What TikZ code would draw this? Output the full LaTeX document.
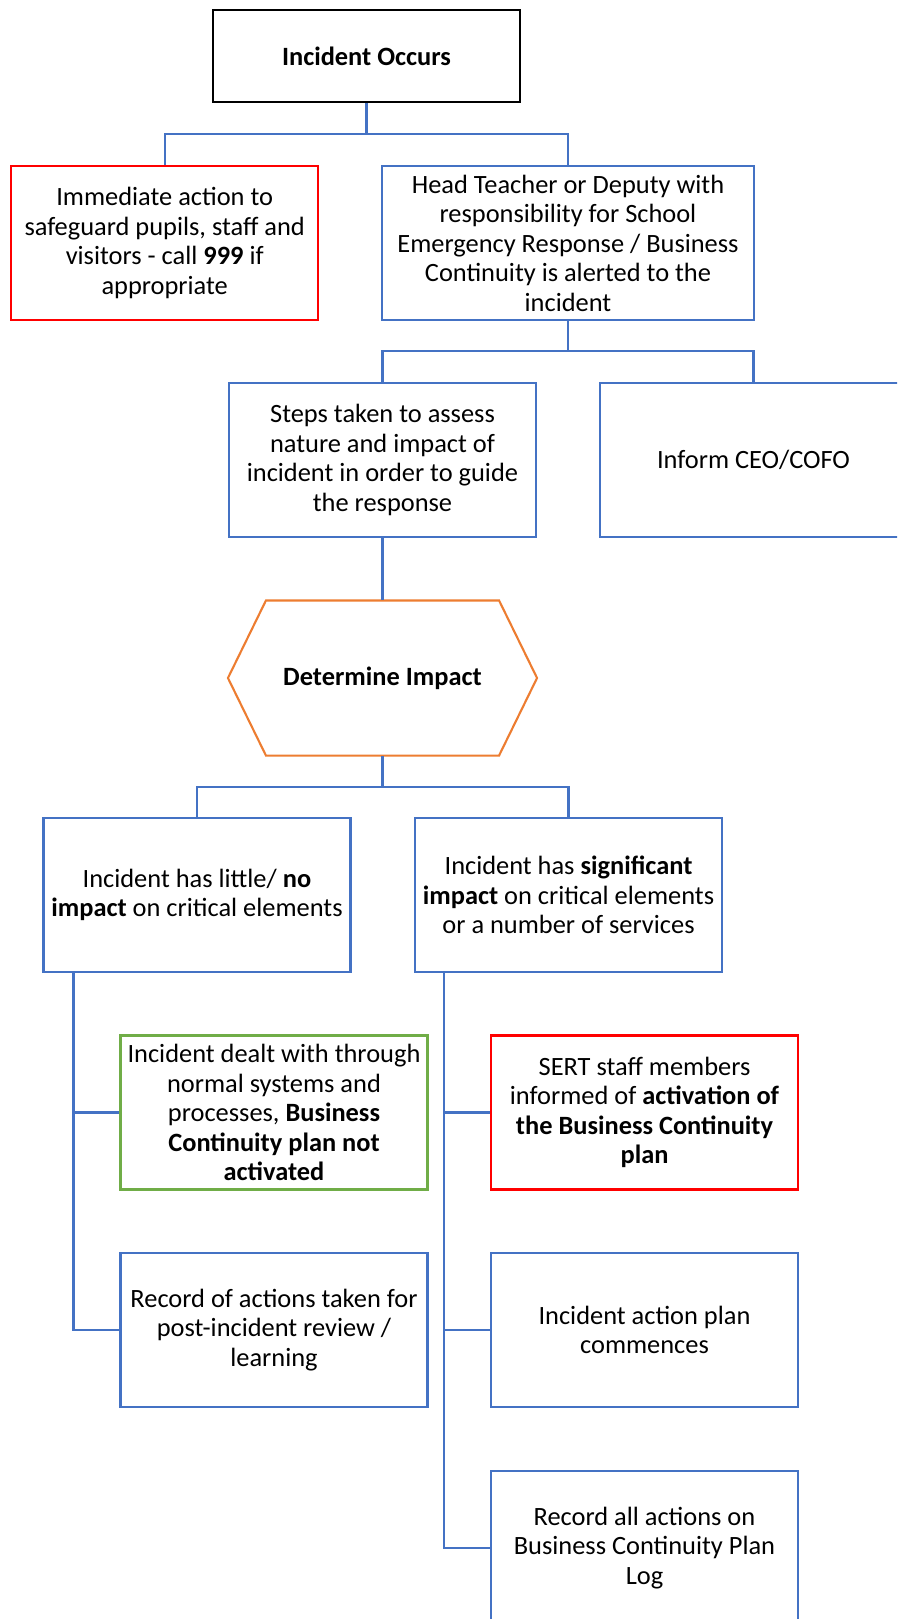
\documentclass[tikz,border=0pt]{standalone}
\usepackage{fontspec}
\setmainfont{Carlito}
\definecolor{officeblue}{HTML}{4472C4}
\definecolor{officered}{HTML}{FF0000}
\definecolor{officegreen}{HTML}{70AD47}
\definecolor{officeorange}{HTML}{ED7D31}
\tikzset{
    box/.style={draw=officeblue, line width=2.1pt, fill=white, rectangle, align=center,
        inner sep=2pt, minimum width=307pt, minimum height=154pt,
        font=\fontsize{26.4}{29.5}\selectfont},
    link/.style={draw=officeblue, line width=2.1pt}
}
\begin{document}
\begin{tikzpicture}[x=1pt,y=-1pt]
    \useasboundingbox (0,0) rectangle (897,1619);
    \clip (0,0) rectangle (897,1619);
    \fill[white] (0,0) rectangle (897,1619);
    \node[box, draw=black, minimum height=92pt] (occurs) at (366.5,56) {\textbf{Incident Occurs}};
    \node[box, draw=officered] (safeguard) at (164.7,243) {Immediate action to\\safeguard pupils, staff and\\visitors - call \textbf{999} if\\appropriate};
    \node[box, minimum width=372pt] (alerted) at (568,243) {Head Teacher or Deputy with\\responsibility for School\\Emergency Response / Business\\Continuity is alerted to the\\incident};
    \node[box] (assess) at (382.5,460) {Steps taken to assess\\nature and impact of\\incident in order to guide\\the response};
    \node[box] (inform) at (753.5,460) {Inform CEO/COFO};
    \node[box, draw=none, fill=none, minimum height=153pt] (impact) at (382.5,678) {\textbf{Determine Impact}};
    \draw[draw=officeorange, line width=2.1pt] (impact.west) -- ([xshift=38pt]impact.north west) -- ([xshift=-38pt]impact.north east) -- (impact.east) -- ([xshift=-38pt]impact.south east) -- ([xshift=38pt]impact.south west) -- cycle;
    \node[box] (lowimpact) at (197,895) {Incident has little/ \textbf{no}\\\textbf{impact} on critical elements};
    \node[box] (highimpact) at (568.5,895) {Incident has \textbf{significant}\\\textbf{impact} on critical elements\\or a number of services};
    \node[box, draw=officegreen] (normal) at (274,1112.5) {Incident dealt with through\\normal systems and\\processes, \textbf{Business}\\\textbf{Continuity plan not}\\\textbf{activated}};
    \node[box, draw=officered] (sert) at (644.5,1112.5) {SERT staff members\\informed of \textbf{activation of}\\\textbf{the Business Continuity}\\\textbf{plan}};
    \node[box] (review) at (274,1330) {Record of actions taken for\\post-incident review /\\learning};
    \node[box] (actionplan) at (644.5,1330) {Incident action plan\\commences};
    \node[box] (planlog) at (644.5,1548) {Record all actions on\\Business Continuity Plan\\Log};

    \coordinate (bus1) at (366.5,134);
    \coordinate (bus2) at (568,351);
    \coordinate (bus3) at (382.5,786.7);
    \coordinate (trunkL) at ([xshift=31pt]lowimpact.south west);
    \coordinate (trunkR) at ([xshift=30pt]highimpact.south west);

    \draw[link] (occurs.south) -- (bus1);
    \draw[link] (safeguard.north) |- (bus1) -| (alerted.north);
    \draw[link] (alerted.south) -- (bus2);
    \draw[link] (assess.north) |- (bus2) -| (inform.north);
    \draw[link] (assess.south) -- (impact.north);
    \draw[link] (impact.south) -- (bus3);
    \draw[link] (lowimpact.north) |- (bus3) -| (highimpact.north);
    \draw[link] (trunkL) |- (normal.west);
    \draw[link] (trunkL) |- (review.west);
    \draw[link] (trunkR) |- (sert.west);
    \draw[link] (trunkR) |- (actionplan.west);
    \draw[link] (trunkR) |- (planlog.west);
\end{tikzpicture}
\end{document}
